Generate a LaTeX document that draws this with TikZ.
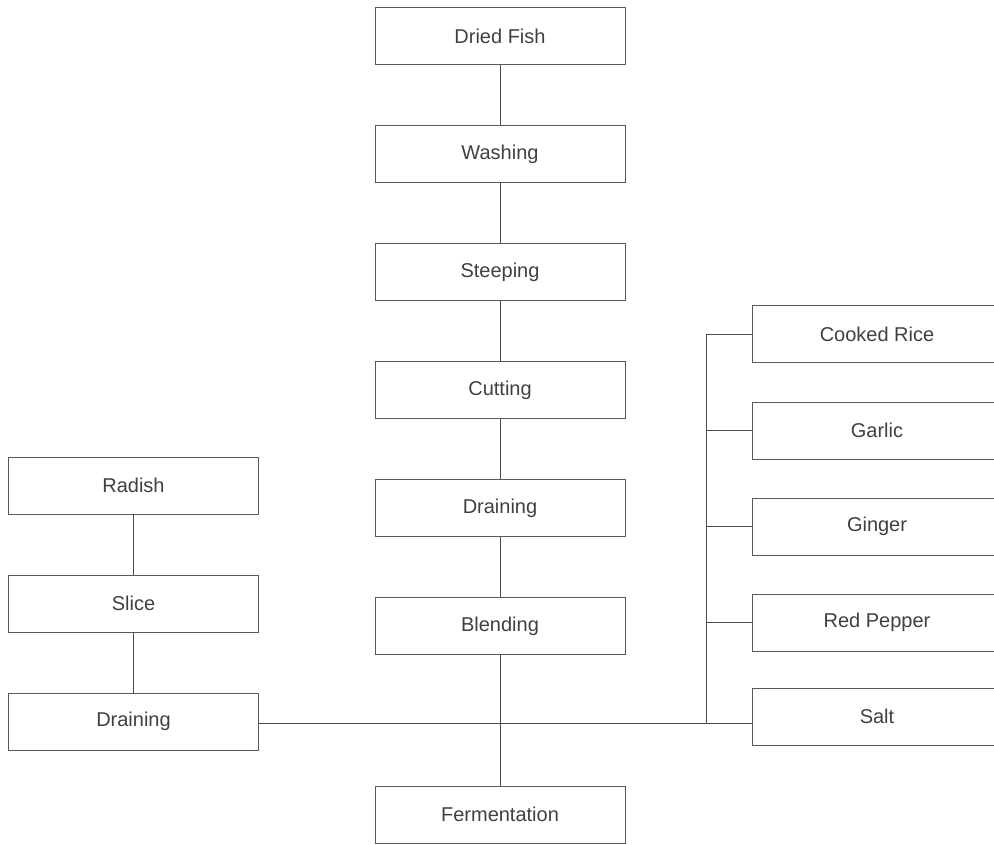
\documentclass[tikz,border=0pt]{standalone}
\usepackage{fontspec}
\setmainfont{Liberation Sans}
\usepackage{tikz}
\usetikzlibrary{positioning}

\tikzset{
  stage/.style={draw=black!65, line width=0.5pt, minimum width=187.5pt, minimum height=42.5pt,
    inner sep=0pt, font=\fontsize{15}{17}\selectfont, text=black!75},
  link/.style={draw=black!70, line width=0.5pt}
}

\begin{document}
\begin{tikzpicture}[x=0.75pt, y=-0.75pt, node distance=45.5pt]
\useasboundingbox (0,0) rectangle (994,844);
% fish line
\node[stage] (fish) at (500,36) {Dried Fish};
\node[stage, below=of fish] (wash) {Washing};
\node[stage, below=of wash] (steep) {Steeping};
\node[stage, below=of steep] (cut) {Cutting};
\node[stage, below=of cut] (drain) {Draining};
\node[stage, below=of drain] (blend) {Blending};
\node[stage] (ferm) at (500,814.5) {Fermentation};
% radish line
\node[stage] (radish) at (133.5,485.5) {Radish};
\node[stage, below=of radish] (slice) {Slice};
\node[stage, below=of slice] (rdrain) {Draining};
% ingredients
\node[stage] (rice) at (877,334) {Cooked Rice};
\node[stage] (garlic) at (877,430.5) {Garlic};
\node[stage] (ginger) at (877,526.5) {Ginger};
\node[stage] (pepper) at (877,622.5) {Red Pepper};
\node[stage] (salt) at (877,716.5) {Salt};
\coordinate (bus) at (706,723);

\draw[link] (fish) -- (wash);
\draw[link] (wash) -- (steep);
\draw[link] (steep) -- (cut);
\draw[link] (cut) -- (drain);
\draw[link] (drain) -- (blend);
\draw[link] (blend) -- (ferm);
\draw[link] (radish) -- (slice);
\draw[link] (slice) -- (rdrain);
\draw[link] (rdrain.east |- bus) -- (salt.west |- bus);
\draw[link] (rice.west) -- (rice.west -| bus) -- (bus);
\foreach \n in {garlic,ginger,pepper}
  \draw[link] (\n.west) -- (\n.west -| bus);
\end{tikzpicture}
\end{document}
